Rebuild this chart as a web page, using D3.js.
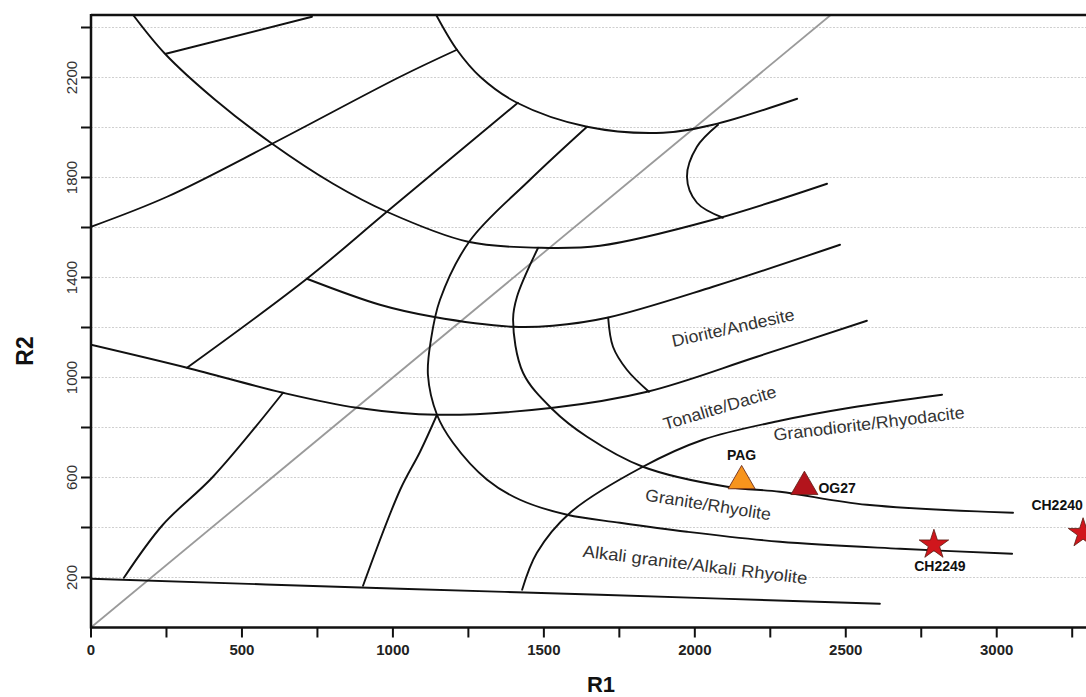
<!DOCTYPE html>
<html><head><meta charset="utf-8">
<script src="https://cdn.jsdelivr.net/npm/d3@7"></script>
<style>body{margin:0;background:#fff}svg{display:block;font-family:Arial,"Liberation Sans",sans-serif}</style>
</head><body><svg id="c" width="1086" height="697"></svg>
<script>
// ---------- data (R1, R2 in diagram units) ----------
const curveBigArc   = [[139,2451],[245,2295],[411,2111],[600,1935],[802,1775],[980,1663],[1249,1543],[1487,1519],[1686,1527],[2060,1631],[2438,1775]];
const curveUpperArc = [[1143,2451],[1212,2311],[1289,2203],[1411,2099],[1643,2003],[1895,1979],[2060,2011],[2339,2115]];
const curveHook     = [[2077,2011],[2007,1923],[1974,1803],[2007,1699],[2093,1639]];
const lineTopLeft   = [[248,2295],[732,2443]];
const lineUpper     = [[0,1603],[252,1723],[600,1935],[1024,2203],[1212,2311]];
const lineMiddle    = [[318,1039],[715,1395],[980,1663],[1414,2099]];
const curveGranite  = [[1643,2003],[1454,1791],[1255,1547],[1156,1311],[1126,1151],[1116,1011],[1146,851],[1199,739],[1312,591],[1421,511],[1577,451],[1752,419],[1974,383],[2282,343],[2680,315],[3051,295]];
const curveGranodio = [[1481,1519],[1411,1323],[1398,1231],[1431,1019],[1530,871],[1643,763],[1828,643],[2107,563],[2282,543],[2570,491],[3054,459]];
const curveAlkali   = [[1428,151],[1477,299],[1587,459],[1828,643],[2027,751],[2282,827],[2514,879],[2819,931]];
const curveTonalite = [[0,1131],[318,1039],[636,939],[881,879],[1146,851],[1530,879],[1842,943],[2206,1083],[2570,1227]];
const curveDiorite  = [[715,1395],[957,1291],[1133,1243],[1398,1203],[1530,1207],[1709,1239],[2060,1363],[2481,1531]];
const curveSmallArc = [[1713,1239],[1729,1123],[1775,1031],[1848,943]];
const lineLowMid    = [[901,167],[1024,551],[1090,703],[1146,851]];
const lineLowLeft   = [[109,199],[238,411],[404,603],[636,939]];
const curveBottom   = [[0,195],[1024,155],[1686,131],[2613,95]];
const diagonal      = [[0,0],[2450,2450]];

const boundaries = [curveBigArc, curveUpperArc, curveHook, lineTopLeft, lineUpper, lineMiddle,
  curveGranite, curveGranodio, curveAlkali, curveTonalite, curveDiorite, curveSmallArc,
  lineLowMid, lineLowLeft, curveBottom];

const regionNames  = ["Diorite/Andesite","Tonalite/Dacite","Granodiorite/Rhyodacite","Granite/Rhyolite","Alkali granite/Alkali Rhyolite"];
const regionR1     = [2127, 2083, 2577, 2044, 2001];
const regionR2     = [1198, 878, 814, 490, 250];
const regionAngle  = [-12.5, -16.5, -6.8, 9, 7];
const regionLength = [125, 117, 192, 127, 226];

const sampleNames  = ["PAG","OG27","CH2249","CH2240"];
const sampleR1     = [2155, 2363, 2792, 3286];
const sampleR2     = [586, 563, 331, 377];
const sampleShape  = ["triangle","triangle","star","star"];
const sampleColor  = ["#f7941d","#b3141c","#d0161c","#d0161c"];

const xTicks = d3.range(0, 3300, 250);
const xLabels = xTicks.filter(v => v % 500 === 0);
const yTicks = d3.range(200, 2401, 200);
const yLabels = [200, 600, 1000, 1400, 1800, 2200];

// ---------- drawing ----------
const svg = d3.select("#c");
const L = 91, T = 15, B = 627.5, Rr = 1087.3;
const x = d3.scaleLinear().domain([0, 3300]).range([L, Rr]);
const y = d3.scaleLinear().domain([0, 2450]).range([B, T]);

svg.append("defs").append("clipPath").attr("id","clip")
  .append("rect").attr("x", L).attr("y", T).attr("width", 1086 - L).attr("height", B - T);

// grid lines
svg.append("g").selectAll("line").data(yTicks).join("line")
  .attr("x1", L).attr("x2", 1086).attr("y1", d => y(d)).attr("y2", d => y(d))
  .attr("stroke", "#cfcfcf").attr("stroke-width", 1.2).attr("stroke-dasharray", "2,1.5");

const plot = svg.append("g").attr("clip-path", "url(#clip)");
const line = d3.line().x(d => x(d[0])).y(d => y(d[1])).curve(d3.curveCatmullRom.alpha(0.5));

plot.append("path").attr("d", d3.line().x(d => x(d[0])).y(d => y(d[1]))(diagonal))
  .attr("fill","none").attr("stroke","#9a9a9a").attr("stroke-width",1.8);

plot.selectAll("path.b").data(boundaries).join("path").attr("class","b")
  .attr("d", line).attr("fill","none").attr("stroke","#111").attr("stroke-width",1.9)
  .attr("stroke-linejoin","round").attr("stroke-linecap","round");

// region labels
svg.append("g").selectAll("text").data(regionNames).join("text")
  .attr("transform", (d,i) => `translate(${x(regionR1[i])},${y(regionR2[i])}) rotate(${regionAngle[i]})`)
  .attr("text-anchor","middle").attr("dominant-baseline","central")
  .attr("font-size", 17).attr("fill","#333")
  .attr("textLength", (d,i) => regionLength[i]).attr("lengthAdjust","spacingAndGlyphs")
  .text(d => d);

// samples
const symTri = d3.symbol().type(d3.symbolTriangle).size(316);
const symStar = d3.symbol().type(d3.symbolStar).size(270);
const mg = svg.append("g");
sampleNames.forEach((n, i) => {
  mg.append("path")
    .attr("d", sampleShape[i] === "star" ? symStar() : symTri())
    .attr("transform", `translate(${x(sampleR1[i])},${y(sampleR2[i])})`)
    .attr("fill", sampleColor[i]).attr("stroke", "#5a1a10").attr("stroke-width", 0.8);
});
const labelDx = [0, 14, 6, -26];
const labelDy = [-21, 6, 26, -23];
const labelAnchor = ["middle","start","middle","middle"];
mg.selectAll("text").data(sampleNames).join("text")
  .attr("x", (d,i) => x(sampleR1[i]) + labelDx[i])
  .attr("y", (d,i) => y(sampleR2[i]) + labelDy[i])
  .attr("text-anchor", (d,i) => labelAnchor[i])
  .attr("font-size", 14).attr("font-weight","bold").attr("fill","#111")
  .text(d => d);

// axes
const ax = svg.append("g");
ax.append("line").attr("x1", L).attr("x2", 1086).attr("y1", T).attr("y2", T).attr("stroke","#111").attr("stroke-width",2.5);
ax.append("line").attr("x1", L).attr("x2", 1086).attr("y1", B).attr("y2", B).attr("stroke","#111").attr("stroke-width",2.5);
ax.append("line").attr("x1", L).attr("x2", L).attr("y1", T - 1).attr("y2", B + 1).attr("stroke","#111").attr("stroke-width",2.5);

ax.selectAll("line.xt").data(xTicks).join("line").attr("class","xt")
  .attr("x1", d => x(d)).attr("x2", d => x(d)).attr("y1", B).attr("y2", B + 10)
  .attr("stroke","#111").attr("stroke-width",2);
ax.selectAll("text.xl").data(xLabels).join("text").attr("class","xl")
  .attr("x", d => x(d)).attr("y", 655).attr("text-anchor","middle")
  .attr("font-size", 15).attr("font-weight","bold").attr("fill","#222").text(d => d);

ax.selectAll("line.yt").data(yTicks).join("line").attr("class","yt")
  .attr("x1", L - 10).attr("x2", L).attr("y1", d => y(d)).attr("y2", d => y(d))
  .attr("stroke","#111").attr("stroke-width",2);
ax.selectAll("text.yl").data(yLabels).join("text").attr("class","yl")
  .attr("transform", d => `translate(77,${y(d)}) rotate(-90)`).attr("text-anchor","middle")
  .attr("font-size", 15).attr("fill","#333").text(d => d);

svg.append("text").attr("x", 601).attr("y", 692).attr("text-anchor","middle")
  .attr("font-size", 22).attr("font-weight","bold").attr("fill","#111").text("R1");
svg.append("text").attr("transform", "translate(33,351) rotate(-90)").attr("text-anchor","middle")
  .attr("font-size", 23).attr("font-weight","bold").attr("fill","#111").text("R2");
</script>
</body></html>
